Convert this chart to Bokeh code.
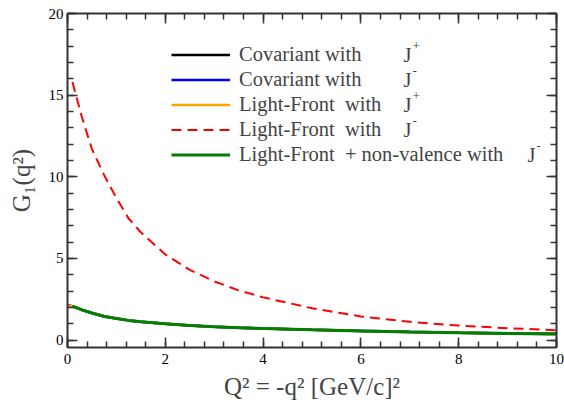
from bokeh.plotting import figure
from bokeh.models import (Range1d, LinearAxis, Legend, LegendItem, Label,
                          SingleIntervalTicker, CustomJSTickFormatter)
from bokeh.embed import file_html
from bokeh.resources import INLINE

# ---- data ----
q2_full = [0.0, 0.1, 0.3, 0.5, 0.75, 1.0, 1.25, 1.5, 2.0, 2.5, 3.0, 3.5, 4.0, 5.0, 6.0, 7.0, 8.0, 9.0, 10.0]
cov_jplus = [2.12, 2.07, 1.85, 1.66, 1.46, 1.32, 1.21, 1.13, 1.00, 0.90, 0.82, 0.76, 0.71, 0.63, 0.56, 0.50, 0.45, 0.41, 0.38]
cov_jminus = [2.12, 2.07, 1.85, 1.66, 1.46, 1.32, 1.21, 1.13, 1.00, 0.90, 0.82, 0.76, 0.71, 0.63, 0.57, 0.51, 0.46, 0.42, 0.39]
lf_jplus = [2.12, 2.06, 1.85, 1.66, 1.46, 1.32, 1.21, 1.13, 1.00, 0.90, 0.82, 0.76, 0.71, 0.63, 0.56, 0.50, 0.45, 0.41, 0.38]

q2 = [0.1, 0.3, 0.5, 0.75, 1.0, 1.25, 1.5, 2.0, 2.5, 3.0, 3.5, 4.0, 5.0, 6.0, 7.0, 8.0, 9.0, 10.0]
lf_jminus = [15.8, 13.6, 11.7, 10.1, 8.7, 7.45, 6.6, 5.25, 4.3, 3.6, 3.05, 2.62, 1.95, 1.45, 1.12, 0.89, 0.73, 0.61]
lf_nonval = [2.08, 1.85, 1.66, 1.45, 1.32, 1.21, 1.13, 1.00, 0.90, 0.82, 0.76, 0.71, 0.63, 0.56, 0.50, 0.45, 0.41, 0.37]

labels = ["Covariant with", "Covariant with", "Light-Front  with", "Light-Front  with",
          "Light-Front  + non-valence with"]
sups = ["+", "-", "+", "-", "-"]

FONT = "Liberation Serif"

p = figure(width=564, height=408, output_backend="svg", toolbar_location=None,
           x_range=Range1d(0, 10), y_range=Range1d(-0.45, 20),
           min_border_left=67, min_border_right=8, min_border_top=13, min_border_bottom=61)
p.outline_line_color = None
p.xgrid.visible = False
p.ygrid.visible = False

r_black = p.line(q2_full, cov_jplus, line_color="black", line_width=2.5)
r_blue = p.line(q2_full, cov_jminus, line_color="#0000ff", line_width=2.5)
r_orange = p.line(q2_full, lf_jplus, line_color="#ffa500", line_width=2.5)
r_red = p.line(q2, lf_jminus, line_color="#ff0000", line_width=2, line_dash="10 6")
r_green = p.line(q2, lf_nonval, line_color="#008000", line_width=3)

def style(ax):
    ax.axis_line_color = "#333333"
    ax.axis_line_width = 2
    ax.major_tick_line_color = "#333333"
    ax.minor_tick_line_color = "#333333"
    ax.major_tick_line_width = 1.5
    ax.minor_tick_line_width = 1.5
    ax.major_tick_in = 10
    ax.major_tick_out = 0
    ax.minor_tick_in = 6
    ax.minor_tick_out = 0
    ax.major_label_text_font = FONT
    ax.major_label_text_font_size = "15px"
    ax.major_label_text_color = "black"

p.xaxis.ticker = SingleIntervalTicker(interval=2, num_minor_ticks=5)
p.yaxis.ticker = SingleIntervalTicker(interval=5, num_minor_ticks=5)
for ax in p.xaxis:
    style(ax)
    ax.major_label_standoff = 6
for ax in p.yaxis:
    style(ax)
    ax.major_label_standoff = 4

p.xaxis.axis_label = "Q² = -q² [GeV/c]²"
p.yaxis.axis_label = "G₁(q²)"
for ax in list(p.xaxis) + list(p.yaxis):
    ax.axis_label_text_font = FONT
    ax.axis_label_text_font_style = "normal"
    ax.axis_label_text_font_size = "25px"
p.xaxis.axis_label_standoff = 6
p.yaxis.axis_label_standoff = 11

blank = CustomJSTickFormatter(code="return ''")
top = LinearAxis(ticker=SingleIntervalTicker(interval=2, num_minor_ticks=5), formatter=blank)
right = LinearAxis(ticker=SingleIntervalTicker(interval=5, num_minor_ticks=5), formatter=blank)
for ax in (top, right):
    style(ax)
    ax.major_label_standoff = 0
p.add_layout(top, "above")
p.add_layout(right, "right")

row_h = 25
legend_top_from_bottom = 305  # frame-relative
items = [LegendItem(label=l, renderers=[r]) for l, r in
         zip(labels, [r_black, r_blue, r_orange, r_red, r_green])]
legend = Legend(items=items, location=(104, legend_top_from_bottom - row_h * len(items)),
                border_line_color=None, background_fill_alpha=0, padding=0, margin=0,
                spacing=0, glyph_width=59, glyph_height=row_h, label_height=row_h,
                label_standoff=9, label_text_font=FONT, label_text_font_size="20.5px",
                label_text_baseline="middle")
p.add_layout(legend)

jx = [336, 336, 336, 336, 460]
for i, (s, x) in enumerate(zip(sups, jx)):
    cy = legend_top_from_bottom - row_h * (i + 0.5)
    p.add_layout(Label(x=x, y=cy, x_units="screen", y_units="screen", text="J",
                       text_font=FONT, text_font_size="20.5px", text_baseline="middle"))
    p.add_layout(Label(x=x + 9, y=cy + 9, x_units="screen", y_units="screen", text=s,
                       text_font=FONT, text_font_size="13px", text_baseline="middle"))

open("out.html", "w").write(file_html(p, INLINE))
